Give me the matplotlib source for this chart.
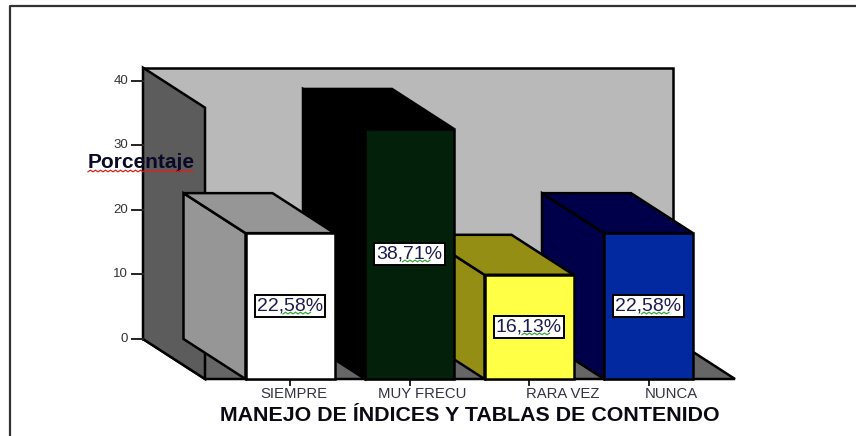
import numpy as np
import matplotlib
matplotlib.use('Agg')
from matplotlib import pyplot as plt
from matplotlib.patches import Polygon

categorias = ['SIEMPRE', 'MUY FRECU', 'RARA VEZ', 'NUNCA']
porcentajes = [22.58, 38.71, 16.13, 22.58]
etiquetas = ['22,58%', '38,71%', '16,13%', '22,58%']
y_ticks = [0, 10, 20, 30, 40]

colores_frente = ['#ffffff', '#02200a', '#ffff45', '#0329a0']
colores_lado = ['#969696', '#000000', '#948e14', '#00004a']

# escala: px por categoria y px por unidad de porcentaje
PX_X = 119.5
PX_Y = 6.46
X0 = 290.0
Y0 = 379.0
W, H = 856, 436
DX = -62 / PX_X     # profundidad
DY = 40 / PX_Y
ANCHO = 89 / PX_X
Y_MAX = 42.0

plt.rcParams['font.family'] = ['Liberation Sans', 'DejaVu Sans']

fig = plt.figure(figsize=(W / 100, H / 100), dpi=100)
ax = fig.add_axes([0, 0, 1, 1])
ax.set_xlim(-X0 / PX_X, (W - X0) / PX_X)
ax.set_ylim((Y0 - H) / PX_Y, Y0 / PX_Y)
ax.axis('off')


def cara(puntos, color, z, lw=1.8):
    ax.add_patch(Polygon(puntos, closed=True, facecolor=color, edgecolor='black',
                         linewidth=lw, joinstyle='miter', zorder=z))


def onda(x, y, largo, color, z):
    # subrayado ondulado del corrector, medidas en px
    n = int(largo / 2.5) + 1
    xs = x + np.arange(n) * 2.5 / PX_X
    ys = y + np.where(np.arange(n) % 2 == 0, -0.8, 0.8) / PX_Y
    ax.plot(xs, ys, color=color, lw=0.9, zorder=z, solid_joinstyle='miter')


# marco
ax.plot([9.5 / W, 9.5 / W, 1], [0, 1 - 6.5 / H, 1 - 6.5 / H], color='#333333', lw=1.6,
        transform=ax.transAxes, clip_on=False, zorder=1)

# paredes y suelo
izq, der = (205 - X0) / PX_X, (735 - X0) / PX_X
cara([(izq + DX, DY), (der + DX, DY), (der + DX, Y_MAX + DY), (izq + DX, Y_MAX + DY)], '#b9b9b9', 2)
cara([(izq, 0), (der, 0), (der + DX, DY), (izq + DX, DY)], '#666666', 3)
cara([(izq, 0), (izq + DX, DY), (izq + DX, Y_MAX + DY), (izq, Y_MAX)], '#5c5c5c', 3)

# barras, de derecha a izquierda para que tapen bien
for i in range(len(categorias) - 1, -1, -1):
    x1 = i - ANCHO / 2
    x2 = i + ANCHO / 2
    v = porcentajes[i]
    z = 10 + (len(categorias) - i) * 2
    cara([(x1, 0), (x1 + DX, DY), (x1 + DX, v + DY), (x1, v)], colores_lado[i], z)
    cara([(x1, v), (x1 + DX, v + DY), (x2 + DX, v + DY), (x2, v)], colores_lado[i], z)
    cara([(x1, 0), (x2, 0), (x2, v), (x1, v)], colores_frente[i], z)
    ax.text(i, v / 2, etiquetas[i], ha='center', va='center', fontsize=14, color='#1c1c50', zorder=40,
            bbox=dict(boxstyle='square,pad=0.12', facecolor='white', edgecolor='black', linewidth=1.4))
    onda(i - 7 / PX_X, v / 2 - 7 / PX_Y, 28, '#3aa83a', 41)

# eje y en la pared del fondo
for t in y_ticks:
    ax.plot([izq + DX - 11 / PX_X, izq + DX], [t + DY, t + DY], color='#222222', lw=1.4, zorder=4)
    ax.text(izq + DX - 15 / PX_X, t + DY, str(t), ha='right', va='center', fontsize=9.5, color='#333333')

# eje x
desp = [4, 13, 34, 23]
for i, c in enumerate(categorias):
    ax.plot([i, i], [0, -6 / PX_Y], color='#222222', lw=1.4, zorder=4)
    ax.text(i + desp[i] / PX_X, -15 / PX_Y, c, ha='center', va='center', fontsize=10.7, color='#333344')

ax.text((88 - X0) / PX_X, (Y0 - 162) / PX_Y, 'Porcentaje', ha='left', va='center', fontsize=15,
        fontweight='bold', color='#0a0a28', zorder=50)
onda((88 - X0) / PX_X, (Y0 - 171) / PX_Y, 106, '#dd2020', 51)

ax.text((470 - X0) / PX_X, (Y0 - 415) / PX_Y, 'MANEJO DE ÍNDICES Y TABLAS DE CONTENIDO', ha='center', va='center',
        fontsize=15.4, fontweight='bold', color='#0a0a14')

fig.savefig('out.png', dpi=100)
